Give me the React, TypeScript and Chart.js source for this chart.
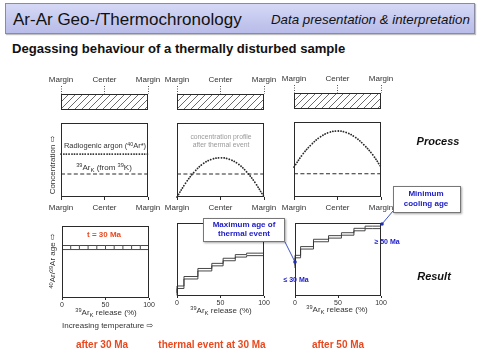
import React, { useEffect, useRef } from "react";
import { Chart, registerables } from "chart.js";
Chart.register(...registerables);

const FONT = "'Liberation Sans', Arial, 'DejaVu Sans', sans-serif";
Chart.defaults.font.family = FONT;

// ---------- data ----------
const profileTickPos = [0, 0.5, 1];
const profileTickLabels = ["Margin", "Center", "Margin"];
const releaseTicks = [0, 50, 100];

// concentration profiles (relative units) across the grain, margin (0) to margin (1)
const profileX = [0, 0.1, 0.2, 0.3, 0.4, 0.5, 0.6, 0.7, 0.8, 0.9, 1];
const radiogenicInitial = [0.58, 0.58, 0.58, 0.58, 0.58, 0.58, 0.58, 0.58, 0.58, 0.58, 0.58];
const potassiumLevel = [0.31, 0.31, 0.31, 0.31, 0.31, 0.31, 0.31, 0.31, 0.31, 0.31, 0.31];
const radiogenicAfterEvent = [0.0, 0.19, 0.34, 0.45, 0.51, 0.53, 0.51, 0.45, 0.34, 0.19, 0.0];
const radiogenicAfter50 = [0.4, 0.57, 0.7, 0.8, 0.86, 0.88, 0.86, 0.8, 0.7, 0.57, 0.4];

// age spectra: start of each step (% 39ArK released) and apparent age (relative)
const stepsA = [0, 10, 20, 30, 40, 50, 60, 70, 80, 90];
const agesA = [0.7, 0.7, 0.7, 0.7, 0.7, 0.7, 0.7, 0.7, 0.7, 0.7];
const errA = 0.028;
const stepsB = [0, 8, 24, 40, 53, 67, 80, 92];
const agesB = [0.025, 0.12, 0.25, 0.36, 0.43, 0.5, 0.55, 0.57];
const errB = 0.017;
const stepsC = [0, 6.5, 21.5, 39, 54, 68.5, 81.5, 90];
const agesC = [0.4, 0.54, 0.66, 0.76, 0.81, 0.85, 0.91, 0.94];
const errC = 0.017;

// ---------- helpers ----------
const PAD = 20;
const INK = "#2a2a2a";

const boxPlugin = {
  id: "box",
  afterDraw(chart: any) {
    const { ctx, chartArea: a } = chart;
    ctx.save();
    ctx.strokeStyle = INK;
    ctx.lineWidth = 1;
    ctx.strokeRect(Math.round(a.left) + 0.5, Math.round(a.top) + 0.5, Math.round(a.right - a.left) - 1, Math.round(a.bottom - a.top) - 1);
    ctx.restore();
  },
};

const hatchPlugin = {
  id: "hatch",
  beforeDatasetsDraw(chart: any) {
    const { ctx, chartArea: a } = chart;
    const pc = document.createElement("canvas");
    pc.width = 7;
    pc.height = 7;
    const p = pc.getContext("2d")!;
    p.strokeStyle = "#505050";
    p.lineWidth = 0.85;
    p.beginPath();
    p.moveTo(-1, 8);
    p.lineTo(8, -1);
    p.moveTo(-1, 1);
    p.lineTo(1, -1);
    p.moveTo(6, 8);
    p.lineTo(8, 6);
    p.stroke();
    const pat = ctx.createPattern(pc, "repeat");
    ctx.save();
    ctx.fillStyle = pat;
    ctx.fillRect(a.left, a.top, a.right - a.left, a.bottom - a.top);
    ctx.restore();
  },
};

function xAxis(kind: "profile" | "release" | "top", size: number) {
  const isProfile = kind !== "release";
  return {
    type: "linear",
    min: 0,
    max: isProfile ? 1 : 100,
    position: kind === "top" ? "top" : "bottom",
    afterFit: (s: any) => {
      s.height = size;
    },
    afterBuildTicks: (s: any) => {
      s.ticks = (isProfile ? profileTickPos : releaseTicks).map((v) => ({ value: v }));
    },
    border: { display: false },
    grid: {
      drawOnChartArea: false,
      drawTicks: true,
      tickLength: kind === "top" ? 8 : kind === "profile" ? 3 : 2,
      tickColor: kind === "top" ? "#555" : INK,
      tickBorderDash: kind === "top" ? [1, 1.5] : [],
      tickWidth: 1,
    },
    ticks: {
      autoSkip: false,
      maxRotation: 0,
      padding: kind === "top" ? 1 : kind === "profile" ? 3 : 1,
      color: "#333",
      font: { size: kind === "release" ? 7 : 8 },
      callback: (v: any, i: number) => (isProfile ? profileTickLabels[i] : String(releaseTicks[i])),
    },
  };
}

function baseOptions(kind: "profile" | "release" | "top", padT: number, padB: number) {
  return {
    responsive: false,
    animation: false,
    devicePixelRatio: 1,
    layout: { padding: { left: PAD, right: PAD, top: kind === "top" ? 0 : padT, bottom: 0 } },
    plugins: { legend: { display: false }, tooltip: { enabled: false } },
    elements: { point: { radius: 0 } },
    scales: {
      x: xAxis(kind, kind === "top" ? padT : padB),
      y: { display: false, min: 0, max: 1 },
    },
  };
}

function xy(xs: number[], ys: number[]) {
  return xs.map((x, i) => ({ x, y: ys[i] }));
}

function stepData(starts: number[], ages: number[], off: number) {
  const pts = starts.map((s, i) => ({ x: s, y: ages[i] + off }));
  pts.push({ x: 100, y: ages[ages.length - 1] + off });
  return pts;
}

const dotted = { borderColor: INK, borderWidth: 1.8, borderDash: [0.1, 2.6], borderCapStyle: "round", tension: 0.4, pointRadius: 0, clip: 3 };
const dashed = { borderColor: INK, borderWidth: 1.1, borderDash: [4, 2.4], pointRadius: 0, clip: 3 };
const stepLine = { borderColor: "#333", borderWidth: 0.9, stepped: "after", pointRadius: 0, clip: 3 };

function PanelChart(props: { x: number; y: number; w: number; h: number; padT: number; padB: number; make: (padT: number, padB: number) => any }) {
  const ref = useRef<HTMLCanvasElement>(null);
  const W = props.w + PAD * 2;
  const H = props.h + props.padT + props.padB;
  useEffect(() => {
    const chart = new Chart(ref.current!, props.make(props.padT, props.padB));
    return () => chart.destroy();
  }, []);
  return (
    <canvas
      ref={ref}
      width={W}
      height={H}
      style={{ position: "absolute", left: props.x - PAD, top: props.y - props.padT, width: W, height: H }}
    />
  );
}

function makeTop(padT: number, padB: number) {
  return { type: "line", data: { datasets: [] }, options: baseOptions("top", padT, padB), plugins: [hatchPlugin, boxPlugin] };
}

function makeProfile(series: { data: number[]; style: any }[]) {
  return (padT: number, padB: number) => ({
    type: "line",
    data: { datasets: series.map((s) => ({ data: xy(profileX, s.data), ...s.style })) },
    options: baseOptions("profile", padT, padB),
    plugins: [boxPlugin],
  });
}

function makeSpectrum(starts: number[], ages: number[], err: number, separators: boolean) {
  return (padT: number, padB: number) => {
    const datasets: any[] = [
      { data: stepData(starts, ages, err), ...stepLine },
      { data: stepData(starts, ages, -err), ...stepLine },
    ];
    if (separators) {
      datasets.push({
        type: "scatter",
        data: starts.slice(1).map((s, i) => ({ x: s, y: ages[i + 1] })),
        pointStyle: "line",
        rotation: 90,
        radius: 2,
        pointRadius: 2,
        borderColor: "#333",
        borderWidth: 0.9,
        showLine: false,
      });
    }
    return { type: "line", data: { datasets }, options: baseOptions("release", padT, padB), plugins: [boxPlugin] };
  };
}

// ---------- text helpers ----------
function T(props: { x: number; y: number; children: any; style?: React.CSSProperties; align?: "left" | "center" }) {
  const center = props.align !== "left";
  return (
    <div
      style={{
        position: "absolute",
        left: props.x,
        top: props.y,
        transform: center ? "translate(-50%, -50%)" : "translate(0, -50%)",
        whiteSpace: "nowrap",
        fontFamily: FONT,
        lineHeight: 1,
        ...props.style,
      }}
    >
      {props.children}
    </div>
  );
}

const sup = (t: string) => <span style={{ fontSize: "0.7em", verticalAlign: "0.45em" }}>{t}</span>;
const sub = (t: string) => <span style={{ fontSize: "0.75em", verticalAlign: "-0.3em" }}>{t}</span>;

const gray: React.CSSProperties = { fontSize: 8, color: "#333" };
const blue: React.CSSProperties = { fontSize: 8, color: "#2020c8", fontWeight: "bold", textAlign: "center", lineHeight: "9.5px" };
const red: React.CSSProperties = { fontSize: 10, color: "#e84a20", fontWeight: "bold" };

const colX = [61, 177, 294];
const colW = 87;

export default function App() {
  return (
    <div style={{ position: "fixed", left: 0, top: 0, width: 479, height: 359, background: "#fff", overflow: "hidden", fontFamily: FONT }}>
      {/* header */}
      <div
        style={{
          position: "absolute",
          left: 5,
          top: 3,
          width: 468,
          height: 29,
          background: "linear-gradient(#d6d9f5, #c3c7ee 60%, #b8bce8)",
          border: "1px solid #8a8aa0",
          boxShadow: "1px 1px 1px rgba(0,0,0,0.25)",
        }}
      />
      <T x={13} y={19} align="left" style={{ fontSize: 17, color: "#111" }}>
        Ar-Ar Geo-/Thermochronology
      </T>
      <T x={271} y={20} align="left" style={{ fontSize: 13.3, fontStyle: "italic", color: "#111" }}>
        Data presentation &amp; interpretation
      </T>
      <T x={12} y={49} align="left" style={{ fontSize: 13.1, fontWeight: "bold", color: "#111" }}>
        Degassing behaviour of a thermally disturbed sample
      </T>

      {/* hatched grain sections */}
      <PanelChart x={colX[0]} y={94} w={colW} h={16} padT={28} padB={0} make={makeTop} />
      <PanelChart x={colX[1]} y={94} w={colW} h={16} padT={28} padB={0} make={makeTop} />
      <PanelChart x={colX[2]} y={93} w={colW} h={16} padT={28} padB={0} make={makeTop} />

      {/* concentration profiles */}
      <PanelChart
        x={colX[0]}
        y={123}
        w={colW}
        h={74}
        padT={4}
        padB={18}
        make={makeProfile([
          { data: radiogenicInitial, style: dotted },
          { data: potassiumLevel, style: dashed },
        ])}
      />
      <PanelChart
        x={colX[1]}
        y={123}
        w={colW}
        h={74}
        padT={4}
        padB={18}
        make={makeProfile([
          { data: radiogenicAfterEvent, style: dotted },
          { data: potassiumLevel, style: dashed },
        ])}
      />
      <PanelChart
        x={colX[2]}
        y={122}
        w={colW}
        h={75}
        padT={4}
        padB={18}
        make={makeProfile([
          { data: radiogenicAfter50, style: dotted },
          { data: potassiumLevel, style: dashed },
        ])}
      />

      {/* age spectra */}
      <PanelChart x={62} y={225} w={colW} h={73} padT={4} padB={14} make={makeSpectrum(stepsA, agesA, errA, true)} />
      <PanelChart x={colX[1]} y={223} w={colW} h={73} padT={4} padB={14} make={makeSpectrum(stepsB, agesB, errB, false)} />
      <PanelChart x={colX[2] + 1} y={223} w={colW - 1} h={73} padT={4} padB={14} make={makeSpectrum(stepsC, agesC, errC, false)} />

      {/* in-panel labels */}
      <T x={105} y={146} style={{ ...gray, fontSize: 7.5 }}>
        Radiogenic argon ({sup("40")}Ar*)
      </T>
      <T x={104} y={168} style={gray}>
        {sup("39")}Ar{sub("K")} (from {sup("39")}K)
      </T>
      <T x={221} y={137} style={{ fontSize: 6.8, color: "#9a9a9a" }}>
        concentration profile
      </T>
      <T x={221} y={145} style={{ fontSize: 6.8, color: "#9a9a9a" }}>
        after thermal event
      </T>
      <T x={53} y={165} style={{ ...gray, transform: "translate(-50%, -50%) rotate(-90deg)" }}>
        Concentration ⇨
      </T>
      <T x={53} y={261} style={{ ...gray, transform: "translate(-50%, -50%) rotate(-90deg)" }}>
        {sup("40")}Ar/{sup("39")}Ar age ⇨
      </T>
      <T x={104} y={235} style={{ ...red, fontSize: 8 }}>
        t = 30 Ma
      </T>

      <T x={106} y={313} style={gray}>
        {sup("39")}Ar{sub("K")} release (%)
      </T>
      <T x={221} y={311} style={gray}>
        {sup("39")}Ar{sub("K")} release (%)
      </T>
      <T x={337} y={310} style={gray}>
        {sup("39")}Ar{sub("K")} release (%)
      </T>
      <T x={62} y={326} align="left" style={gray}>
        Increasing temperature ⇨
      </T>

      <T x={438} y={141} style={{ fontSize: 11, fontWeight: "bold", fontStyle: "italic", color: "#111" }}>
        Process
      </T>
      <T x={434} y={276} style={{ fontSize: 11, fontWeight: "bold", fontStyle: "italic", color: "#111" }}>
        Result
      </T>

      <T x={102} y={345} style={red}>
        after 30 Ma
      </T>
      <T x={212} y={345} style={red}>
        thermal event at 30 Ma
      </T>
      <T x={338} y={345} style={red}>
        after 50 Ma
      </T>

      {/* callouts */}
      <svg width={479} height={359} style={{ position: "absolute", left: 0, top: 0 }}>
        <line x1={285} y1={242} x2={295} y2={262} stroke="#2a3fc0" strokeWidth={0.9} />
        <circle cx={295} cy={262} r={1.8} fill="#1f2fb0" />
        <line x1={393} y1={211} x2={382} y2={224} stroke="#2a3fc0" strokeWidth={0.9} />
        <circle cx={382} cy={224} r={1.8} fill="#1f2fb0" />
      </svg>
      <div
        style={{
          position: "absolute",
          left: 203,
          top: 218,
          width: 80,
          height: 22,
          background: "#fff",
          border: "1px solid #777",
          boxShadow: "1px 1px 2px rgba(0,0,0,0.35)",
        }}
      />
      <T x={244} y={224.5} style={blue}>
        Maximum age of
      </T>
      <T x={244} y={234} style={blue}>
        thermal event
      </T>
      <div
        style={{
          position: "absolute",
          left: 393,
          top: 186,
          width: 66,
          height: 25,
          background: "#fff",
          border: "1px solid #777",
          boxShadow: "1px 1px 2px rgba(0,0,0,0.35)",
        }}
      />
      <T x={426} y={194} style={blue}>
        Minimum
      </T>
      <T x={426} y={204} style={blue}>
        cooling age
      </T>
      <T x={296} y={280} style={{ ...blue, fontSize: 7 }}>
        ≤ 30 Ma
      </T>
      <T x={387} y={242} style={{ ...blue, fontSize: 7 }}>
        ≥ 50 Ma
      </T>
    </div>
  );
}
